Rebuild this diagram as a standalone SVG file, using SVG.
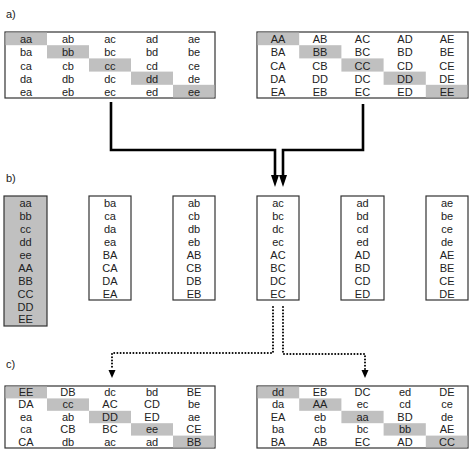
<svg xmlns="http://www.w3.org/2000/svg" width="474" height="455" viewBox="0 0 474 455">
<style>
text{font-family:"Liberation Sans",Arial,sans-serif;font-size:11px;fill:#222;text-anchor:middle}
.lbl{text-anchor:start;font-size:11px}
.tb{fill:#fff;stroke:#333;stroke-width:1.2}
.g{fill:#c0c0c0}
.solid{fill:none;stroke:#000;stroke-width:2.6}
.dot{fill:none;stroke:#000;stroke-width:2;stroke-dasharray:0 3.2;stroke-linecap:round}
</style>
<defs>
<marker id="ah" markerWidth="8" markerHeight="11" refX="4" refY="11" orient="auto-start-reverse" markerUnits="userSpaceOnUse" viewBox="0 0 8 11"><path d="M0,0 L8,0 L4,11 Z" fill="#000"/></marker>
<marker id="ahs" markerWidth="7" markerHeight="8" refX="3.5" refY="8" markerUnits="userSpaceOnUse" viewBox="0 0 7 8"><path d="M0,0 L7,0 L3.5,8 Z" fill="#000"/></marker>
</defs>
<rect width="474" height="455" fill="#fff"/>
<text class="lbl" x="6" y="18">a)</text>
<text class="lbl" x="6" y="182">b)</text>
<text class="lbl" x="6" y="368">c)</text>

<g id="tableA1">
<rect class="tb" x="5" y="32" width="210" height="66"/>
<rect class="g" x="5.6" y="32.6" width="41.4" height="12.6"/>
<rect class="g" x="47" y="45.2" width="42" height="13.2"/>
<rect class="g" x="89" y="58.4" width="42" height="13.2"/>
<rect class="g" x="131" y="71.6" width="42" height="13.2"/>
<rect class="g" x="173" y="84.8" width="41.4" height="12.6"/>
<text x="26" y="43">aa</text><text x="68" y="43">ab</text><text x="110" y="43">ac</text><text x="152" y="43">ad</text><text x="194" y="43">ae</text>
<text x="26" y="56">ba</text><text x="68" y="56">bb</text><text x="110" y="56">bc</text><text x="152" y="56">bd</text><text x="194" y="56">be</text>
<text x="26" y="69.5">ca</text><text x="68" y="69.5">cb</text><text x="110" y="69.5">cc</text><text x="152" y="69.5">cd</text><text x="194" y="69.5">ce</text>
<text x="26" y="82.5">da</text><text x="68" y="82.5">db</text><text x="110" y="82.5">dc</text><text x="152" y="82.5">dd</text><text x="194" y="82.5">de</text>
<text x="26" y="95.5">ea</text><text x="68" y="95.5">eb</text><text x="110" y="95.5">ec</text><text x="152" y="95.5">ed</text><text x="194" y="95.5">ee</text>
</g>

<g id="tableA2">
<rect class="tb" x="257" y="32" width="211" height="66"/>
<rect class="g" x="257.6" y="32.6" width="41.6" height="12.6"/>
<rect class="g" x="299.2" y="45.2" width="42.2" height="13.2"/>
<rect class="g" x="341.4" y="58.4" width="42.2" height="13.2"/>
<rect class="g" x="383.6" y="71.6" width="42.2" height="13.2"/>
<rect class="g" x="425.8" y="84.8" width="41.6" height="12.6"/>
<text x="278" y="43">AA</text><text x="320" y="43">AB</text><text x="362.5" y="43">AC</text><text x="405" y="43">AD</text><text x="447" y="43">AE</text>
<text x="278" y="56">BA</text><text x="320" y="56">BB</text><text x="362.5" y="56">BC</text><text x="405" y="56">BD</text><text x="447" y="56">BE</text>
<text x="278" y="69.5">CA</text><text x="320" y="69.5">CB</text><text x="362.5" y="69.5">CC</text><text x="405" y="69.5">CD</text><text x="447" y="69.5">CE</text>
<text x="278" y="82.5">DA</text><text x="320" y="82.5">DD</text><text x="362.5" y="82.5">DC</text><text x="405" y="82.5">DD</text><text x="447" y="82.5">DE</text>
<text x="278" y="95.5">EA</text><text x="320" y="95.5">EB</text><text x="362.5" y="95.5">EC</text><text x="405" y="95.5">ED</text><text x="447" y="95.5">EE</text>
</g>

<g id="colB1">
<rect x="4" y="196" width="43" height="130" fill="#c0c0c0" stroke="#333" stroke-width="1.2"/>
<text x="25.5" y="207">aa</text><text x="25.5" y="220">bb</text><text x="25.5" y="233">cc</text><text x="25.5" y="246">dd</text><text x="25.5" y="259">ee</text>
<text x="25.5" y="272">AA</text><text x="25.5" y="285">BB</text><text x="25.5" y="298">CC</text><text x="25.5" y="310.5">DD</text><text x="25.5" y="323">EE</text>
</g>
<g id="colB2">
<rect class="tb" x="89" y="196" width="42" height="104"/>
<text x="110" y="207">ba</text><text x="110" y="220">ca</text><text x="110" y="233">da</text><text x="110" y="246">ea</text>
<text x="110" y="259">BA</text><text x="110" y="272">CA</text><text x="110" y="285">DA</text><text x="110" y="297.5">EA</text>
</g>
<g id="colB3">
<rect class="tb" x="173" y="196" width="42" height="104"/>
<text x="194" y="207">ab</text><text x="194" y="220">cb</text><text x="194" y="233">db</text><text x="194" y="246">eb</text>
<text x="194" y="259">AB</text><text x="194" y="272">CB</text><text x="194" y="285">DB</text><text x="194" y="297.5">EB</text>
</g>
<g id="colB4">
<rect class="tb" x="257" y="196" width="42" height="104"/>
<text x="278" y="207">ac</text><text x="278" y="220">bc</text><text x="278" y="233">dc</text><text x="278" y="246">ec</text>
<text x="278" y="259">AC</text><text x="278" y="272">BC</text><text x="278" y="285">DC</text><text x="278" y="297.5">EC</text>
</g>
<g id="colB5">
<rect class="tb" x="341" y="196" width="43" height="104"/>
<text x="362.5" y="207">ad</text><text x="362.5" y="220">bd</text><text x="362.5" y="233">cd</text><text x="362.5" y="246">ed</text>
<text x="362.5" y="259">AD</text><text x="362.5" y="272">BD</text><text x="362.5" y="285">CD</text><text x="362.5" y="297.5">ED</text>
</g>
<g id="colB6">
<rect class="tb" x="426" y="196" width="42" height="104"/>
<text x="447" y="207">ae</text><text x="447" y="220">be</text><text x="447" y="233">ce</text><text x="447" y="246">de</text>
<text x="447" y="259">AE</text><text x="447" y="272">BE</text><text x="447" y="285">CE</text><text x="447" y="297.5">DE</text>
</g>

<g id="tableC1">
<rect class="tb" x="5" y="386" width="210" height="62"/>
<rect class="g" x="5.6" y="386.6" width="41.4" height="11.8"/>
<rect class="g" x="47" y="398.4" width="42" height="12.4"/>
<rect class="g" x="89" y="410.8" width="42" height="12.4"/>
<rect class="g" x="131" y="423.2" width="42" height="12.4"/>
<rect class="g" x="173" y="435.6" width="41.4" height="11.8"/>
<text x="26" y="395.5">EE</text><text x="68" y="395.5">DB</text><text x="110" y="395.5">dc</text><text x="152" y="395.5">bd</text><text x="194" y="395.5">BE</text>
<text x="26" y="408">DA</text><text x="68" y="408">cc</text><text x="110" y="408">AC</text><text x="152" y="408">CD</text><text x="194" y="408">be</text>
<text x="26" y="420.5">ea</text><text x="68" y="420.5">ab</text><text x="110" y="420.5">DD</text><text x="152" y="420.5">ED</text><text x="194" y="420.5">ae</text>
<text x="26" y="433">ca</text><text x="68" y="433">CB</text><text x="110" y="433">BC</text><text x="152" y="433">ee</text><text x="194" y="433">CE</text>
<text x="26" y="445.5">CA</text><text x="68" y="445.5">db</text><text x="110" y="445.5">ac</text><text x="152" y="445.5">ad</text><text x="194" y="445.5">BB</text>
</g>

<g id="tableC2">
<rect class="tb" x="257" y="386" width="211" height="62"/>
<rect class="g" x="257.6" y="386.6" width="41.6" height="11.8"/>
<rect class="g" x="299.2" y="398.4" width="42.2" height="12.4"/>
<rect class="g" x="341.4" y="410.8" width="42.2" height="12.4"/>
<rect class="g" x="383.6" y="423.2" width="42.2" height="12.4"/>
<rect class="g" x="425.8" y="435.6" width="41.6" height="11.8"/>
<text x="278" y="395.5">dd</text><text x="320" y="395.5">EB</text><text x="362.5" y="395.5">DC</text><text x="405" y="395.5">ed</text><text x="447" y="395.5">DE</text>
<text x="278" y="408">da</text><text x="320" y="408">AA</text><text x="362.5" y="408">ec</text><text x="405" y="408">cd</text><text x="447" y="408">ce</text>
<text x="278" y="420.5">EA</text><text x="320" y="420.5">eb</text><text x="362.5" y="420.5">aa</text><text x="405" y="420.5">BD</text><text x="447" y="420.5">de</text>
<text x="278" y="433">ba</text><text x="320" y="433">cb</text><text x="362.5" y="433">bc</text><text x="405" y="433">bb</text><text x="447" y="433">AE</text>
<text x="278" y="445.5">BA</text><text x="320" y="445.5">AB</text><text x="362.5" y="445.5">EC</text><text x="405" y="445.5">AD</text><text x="447" y="445.5">CC</text>
</g>

<g id="connectors">
<path class="solid" d="M111,102 V150 H275 V176"/>
<path class="solid" d="M363,104 V150 H283 V176"/>
<path d="M271,175 L279,175 L275,187 Z" fill="#000"/>
<path d="M279,175 L287,175 L283,187 Z" fill="#000"/>
<path class="dot" d="M273,307 V353 H112 V370"/>
<path class="dot" d="M283,307 V354 H365 V370"/>
<path d="M108.5,370 L115.5,370 L112,378 Z" fill="#000"/>
<path d="M361.5,370 L368.5,370 L365,378 Z" fill="#000"/>
</g>
</svg>
